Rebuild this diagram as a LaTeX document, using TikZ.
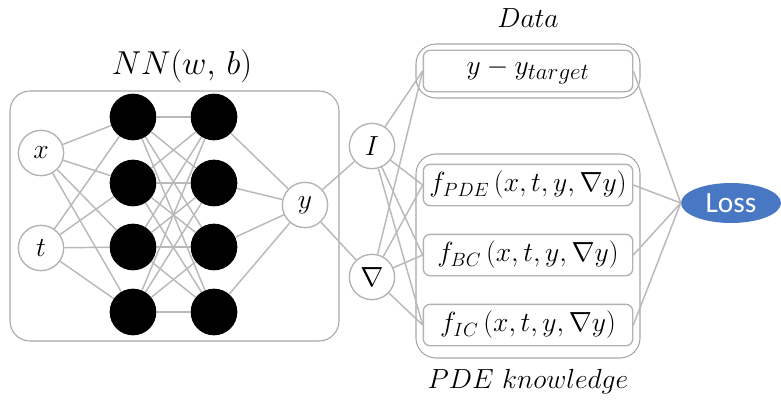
\documentclass[tikz,border=0pt]{standalone}
\usepackage{amsmath,amssymb}
\usepackage{fontspec}
\newfontfamily\lossfont{Carlito}
\usetikzlibrary{shapes.geometric}
\definecolor{lossblue}{RGB}{72,120,195}
\newcommand{\bigsub}[2][15]{_{\text{\fontsize{#1}{#1}\selectfont$#2$}}}

\begin{document}
\begin{tikzpicture}[x=0.75pt,y=-0.75pt,
  edge/.style={draw=gray!55, line width=1.1pt},
  io/.style={circle, draw=gray!60, line width=1pt, fill=white, minimum size=34pt, inner sep=0pt, font=\fontsize{21}{24}\selectfont},
  hid/.style={circle, fill=black, minimum size=35pt, inner sep=0pt},
  frame/.style={draw=gray!70, line width=0.8pt, rounded corners=15pt},
  term/.style={draw=gray!60, line width=1pt, rounded corners=5pt, minimum width=157pt, minimum height=31pt, inner sep=0pt, font=\fontsize{20}{24}\selectfont},
  title/.style={font=\fontsize{21}{24}\selectfont}]
\useasboundingbox (0,0) rectangle (781,403);
% frames
\draw[frame] (10,91) rectangle (339,341);
\draw[frame] (416,44) rectangle (640,98);
\draw[frame] (416,154) rectangle (640,358);
\node[title, font=\fontsize{23}{26}\selectfont] (nntitle) at (182,66) {$NN(w,\,b)$};
\node[title] (datatitle) at (528,18) {$Data$};
\node[title] (pdetitle) at (528,382) {$PDE\ knowledge$};
% network
\node[io] (x) at (41,153) {$x$};
\node[io] (t) at (41,248) {$t$};
\foreach \i/\yy in {1/117,2/183,3/247,4/312} {
  \node[hid] (a\i) at (133,\yy) {};
  \node[hid] (b\i) at (214,\yy) {};
}
\node[io] (y) at (305,205) {$y$};
\node[io] (id) at (372,146) {$I$};
\node[io] (grad) at (372,277) {$\nabla$};
% loss terms
\node[term] (data) at (528,71) {$y-y\bigsub[17]{target}$};
\node[term] (fpde) at (528,185) {$f\bigsub{PDE}\,(x,t,y,\nabla y)$};
\node[term] (fbc) at (528,255) {$f\bigsub{BC}\,(x,t,y,\nabla y)$};
\node[term] (fic) at (528,325) {$f\bigsub{IC}\,(x,t,y,\nabla y)$};
\node[ellipse, fill=lossblue, minimum width=75pt, minimum height=30pt, inner sep=0pt, text=white, font=\lossfont\fontsize{22}{24}\selectfont] (loss) at (731,203) {Loss};
% connections
\foreach \i in {1,...,4} {
  \draw[edge] (x) -- (a\i);
  \draw[edge] (t) -- (a\i);
  \foreach \j in {1,...,4}
    \draw[edge] (a\i) -- (b\j);
  \draw[edge] (b\i) -- (y);
}
\draw[edge] (y) -- (id);
\draw[edge] (y) -- (grad);
\foreach \k in {data,fpde,fbc,fic} {
  \draw[edge] (id) -- (\k.west);
  \draw[edge] (grad) -- (\k.west);
  \draw[edge] (\k.east) -- (loss.west);
}
\end{tikzpicture}
\end{document}
